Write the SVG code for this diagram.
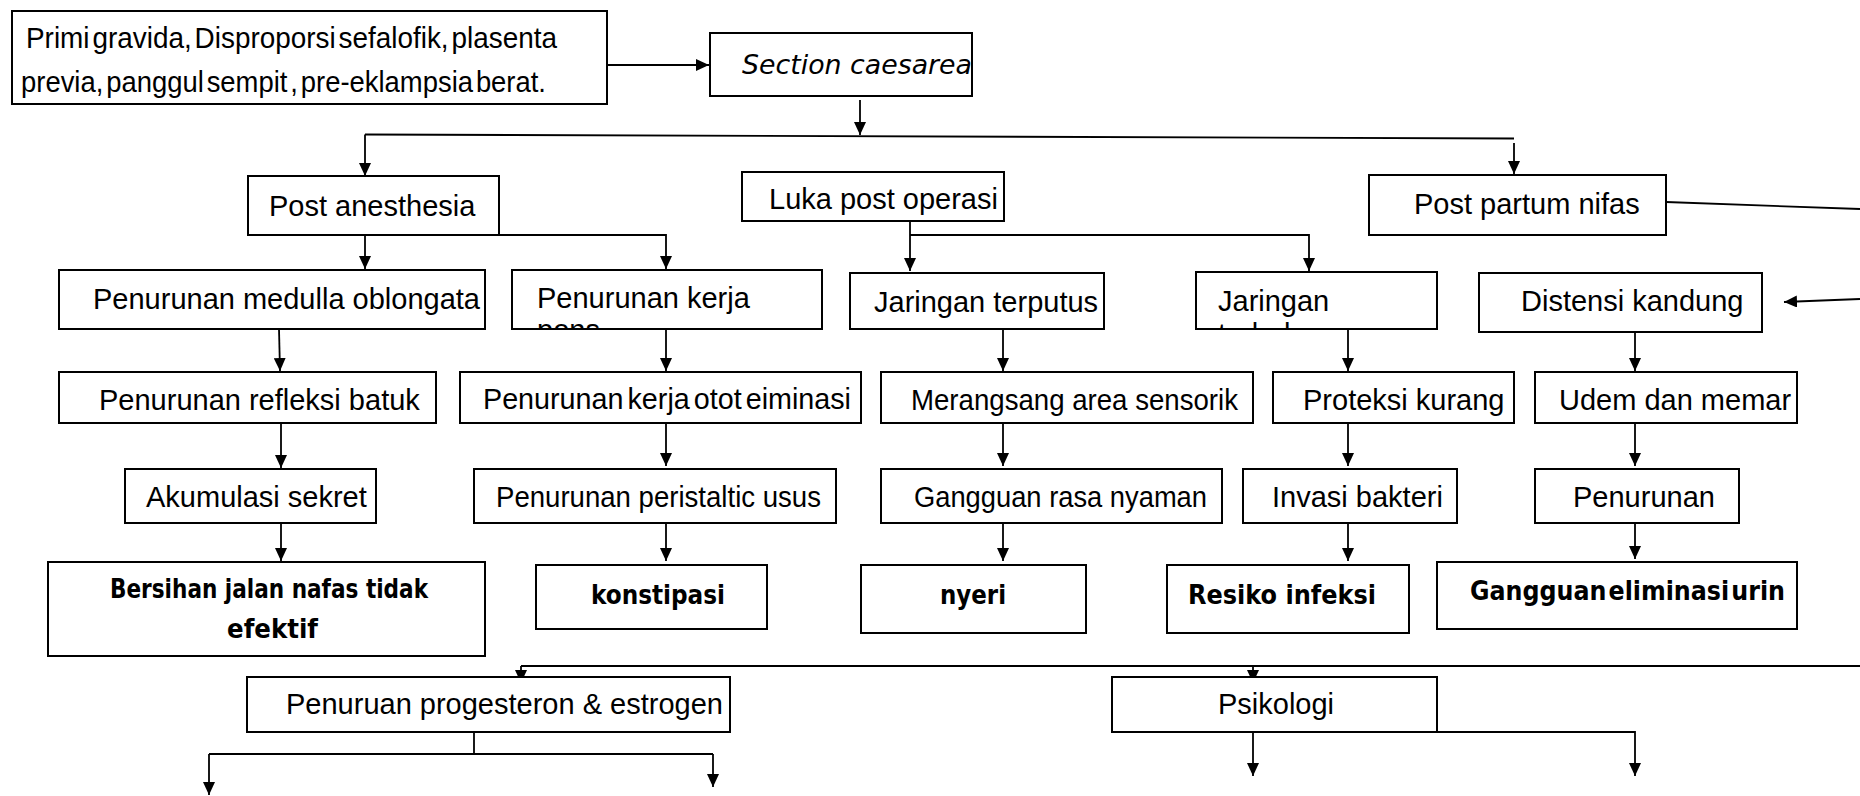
<svg xmlns="http://www.w3.org/2000/svg" width="1860" height="796" viewBox="0 0 1860 796">
<style>
.bx{fill:#fff;stroke:#000;stroke-width:2}
.t{font-family:"Liberation Sans",Arial,sans-serif;font-size:29px;fill:#000}
.b{font-family:"DejaVu Sans Condensed","DejaVu Sans",sans-serif;font-stretch:condensed;font-weight:bold;font-size:26px;fill:#000}
.i{font-family:"DejaVu Sans",sans-serif;font-style:italic;font-size:26.5px;fill:#000}
.c{fill:none;stroke:#000;stroke-width:1.8}
.a{marker-end:url(#ah)}
</style>
<defs>
<marker id="ah" markerUnits="userSpaceOnUse" markerWidth="14" markerHeight="12" refX="13" refY="6" orient="auto"><path d="M0,0 L13,6 L0,12 z" fill="#000"/></marker>
<clipPath id="ck"><rect x="513" y="271" width="308" height="57"/></clipPath>
<clipPath id="cj"><rect x="1197" y="273" width="239" height="55"/></clipPath>
</defs>
<rect width="1860" height="796" fill="#fff"/>
<g id="connectors">
<line class="c a" x1="607" y1="65" x2="709" y2="65"/>
<line class="c a" x1="860" y1="100" x2="860" y2="135"/>
<line class="c" x1="365" y1="134.5" x2="1514" y2="138.5"/>
<line class="c a" x1="365" y1="134.5" x2="365" y2="176"/>
<line class="c a" x1="1514" y1="143" x2="1514" y2="174"/>
<line class="c a" x1="365" y1="235" x2="365" y2="269"/>
<polyline class="c a" points="499,235 666,235 666,269"/>
<line class="c a" x1="910" y1="221" x2="910" y2="271"/>
<polyline class="c a" points="910,235 1309,235 1309,271"/>
<line class="c" x1="1666" y1="202" x2="1860" y2="209"/>
<line class="c a" x1="1860" y1="299" x2="1784" y2="302"/>
<line class="c a" x1="279" y1="329" x2="280" y2="371"/>
<line class="c a" x1="281" y1="423" x2="281" y2="468"/>
<line class="c a" x1="281" y1="523" x2="281" y2="561"/>
<line class="c a" x1="666" y1="329" x2="666" y2="371"/>
<line class="c a" x1="666" y1="423" x2="666" y2="466"/>
<line class="c a" x1="666" y1="523" x2="666" y2="561"/>
<line class="c a" x1="1003" y1="329" x2="1003" y2="371"/>
<line class="c a" x1="1003" y1="423" x2="1003" y2="466"/>
<line class="c a" x1="1003" y1="523" x2="1003" y2="561"/>
<line class="c a" x1="1348" y1="329" x2="1348" y2="371"/>
<line class="c a" x1="1348" y1="423" x2="1348" y2="466"/>
<line class="c a" x1="1348" y1="523" x2="1348" y2="561"/>
<line class="c a" x1="1635" y1="332" x2="1635" y2="371"/>
<line class="c a" x1="1635" y1="423" x2="1635" y2="466"/>
<line class="c a" x1="1635" y1="523" x2="1635" y2="559"/>
<line class="c" x1="521" y1="666" x2="1860" y2="666"/>
<line class="c a" x1="521" y1="666" x2="521" y2="683"/>
<line class="c a" x1="1253" y1="666" x2="1253" y2="683"/>
<line class="c" x1="474" y1="732" x2="474" y2="754"/>
<line class="c" x1="209" y1="754" x2="713" y2="754"/>
<line class="c a" x1="209" y1="754" x2="209" y2="795"/>
<line class="c a" x1="713" y1="754" x2="713" y2="787"/>
<line class="c a" x1="1253" y1="732" x2="1253" y2="776"/>
<polyline class="c a" points="1437,732 1635,732 1635,776"/>
</g>
<g id="n-indikasi"><rect class="bx" x="12" y="11" width="595" height="93"/>
<text class="t" x="26" y="48" font-size="30" word-spacing="-5" textLength="531" lengthAdjust="spacingAndGlyphs">Primi gravida, Disproporsi sefalofik, plasenta</text>
<text class="t" x="21" y="92" font-size="30" word-spacing="-5" textLength="525" lengthAdjust="spacingAndGlyphs">previa, panggul sempit , pre-eklampsia berat.</text></g>
<g id="n-section"><rect class="bx" x="710" y="33" width="262" height="63"/><text class="i" x="742" y="74" textLength="230" lengthAdjust="spacingAndGlyphs">Section caesarea</text></g>
<g id="n-postanes"><rect class="bx" x="248" y="176" width="251" height="59"/><text class="t" x="269" y="216">Post anesthesia</text></g>
<g id="n-luka"><rect class="bx" x="742" y="172" width="262" height="49"/><text class="t" x="769" y="209">Luka post operasi</text></g>
<g id="n-postpartum"><rect class="bx" x="1369" y="175" width="297" height="60"/><text class="t" x="1414" y="214">Post partum nifas</text></g>
<g id="n-medulla"><rect class="bx" x="59" y="270" width="426" height="59"/><text class="t" x="93" y="309">Penurunan medulla oblongata</text></g>
<g id="n-kerja"><rect class="bx" x="512" y="270" width="310" height="59"/><text class="t" x="537" y="308">Penurunan kerja</text><text class="t" x="537" y="340" clip-path="url(#ck)">pons</text></g>
<g id="n-terputus"><rect class="bx" x="850" y="273" width="254" height="56"/><text class="t" x="874" y="312">Jaringan terputus</text></g>
<g id="n-jaringan"><rect class="bx" x="1196" y="272" width="241" height="57"/><text class="t" x="1218" y="311">Jaringan</text><text class="t" x="1218" y="344" clip-path="url(#cj)">terbuka</text></g>
<g id="n-distensi"><rect class="bx" x="1479" y="273" width="283" height="59"/><text class="t" x="1521" y="311">Distensi kandung</text></g>
<g id="n-refleksi"><rect class="bx" x="59" y="372" width="377" height="51"/><text class="t" x="99" y="410">Penurunan refleksi batuk</text></g>
<g id="n-otot"><rect class="bx" x="460" y="372" width="401" height="51"/><text class="t" x="483" y="409" word-spacing="-4" textLength="368" lengthAdjust="spacingAndGlyphs">Penurunan kerja otot eiminasi</text></g>
<g id="n-merangsang"><rect class="bx" x="881" y="372" width="372" height="51"/><text class="t" x="911" y="410" textLength="327" lengthAdjust="spacingAndGlyphs">Merangsang area sensorik</text></g>
<g id="n-proteksi"><rect class="bx" x="1273" y="372" width="241" height="51"/><text class="t" x="1303" y="410">Proteksi kurang</text></g>
<g id="n-udem"><rect class="bx" x="1535" y="372" width="262" height="51"/><text class="t" x="1559" y="410">Udem dan memar</text></g>
<g id="n-akumulasi"><rect class="bx" x="125" y="469" width="251" height="54"/><text class="t" x="146" y="507">Akumulasi sekret</text></g>
<g id="n-peristaltic"><rect class="bx" x="474" y="469" width="362" height="54"/><text class="t" x="496" y="507" textLength="325" lengthAdjust="spacingAndGlyphs">Penurunan peristaltic usus</text></g>
<g id="n-rasa"><rect class="bx" x="881" y="469" width="341" height="54"/><text class="t" x="914" y="507" textLength="293" lengthAdjust="spacingAndGlyphs">Gangguan rasa nyaman</text></g>
<g id="n-invasi"><rect class="bx" x="1243" y="469" width="214" height="54"/><text class="t" x="1272" y="507">Invasi bakteri</text></g>
<g id="n-penurunan"><rect class="bx" x="1535" y="469" width="204" height="54"/><text class="t" x="1573" y="507">Penurunan</text></g>
<g id="n-bersihan"><rect class="bx" x="48" y="562" width="437" height="94"/><text class="b" x="110" y="598" textLength="318" lengthAdjust="spacingAndGlyphs">Bersihan jalan nafas tidak</text><text class="b" x="227" y="638" textLength="91" lengthAdjust="spacingAndGlyphs">efektif</text></g>
<g id="n-konstipasi"><rect class="bx" x="536" y="565" width="231" height="64"/><text class="b" x="591" y="604" textLength="134" lengthAdjust="spacingAndGlyphs">konstipasi</text></g>
<g id="n-nyeri"><rect class="bx" x="861" y="565" width="225" height="68"/><text class="b" x="940" y="604" textLength="66" lengthAdjust="spacingAndGlyphs">nyeri</text></g>
<g id="n-resiko"><rect class="bx" x="1167" y="565" width="242" height="68"/><text class="b" x="1188" y="604" textLength="188" lengthAdjust="spacingAndGlyphs">Resiko infeksi</text></g>
<g id="n-eliminasi"><rect class="bx" x="1437" y="562" width="360" height="67"/><text class="b" x="1470" y="600" word-spacing="-6" textLength="315" lengthAdjust="spacingAndGlyphs">Gangguan eliminasi urin</text></g>
<g id="n-progesteron"><rect class="bx" x="247" y="677" width="483" height="55"/><text class="t" x="286" y="714">Penuruan progesteron &amp; estrogen</text></g>
<g id="n-psikologi"><rect class="bx" x="1112" y="677" width="325" height="55"/><text class="t" x="1218" y="714">Psikologi</text></g>
</svg>
